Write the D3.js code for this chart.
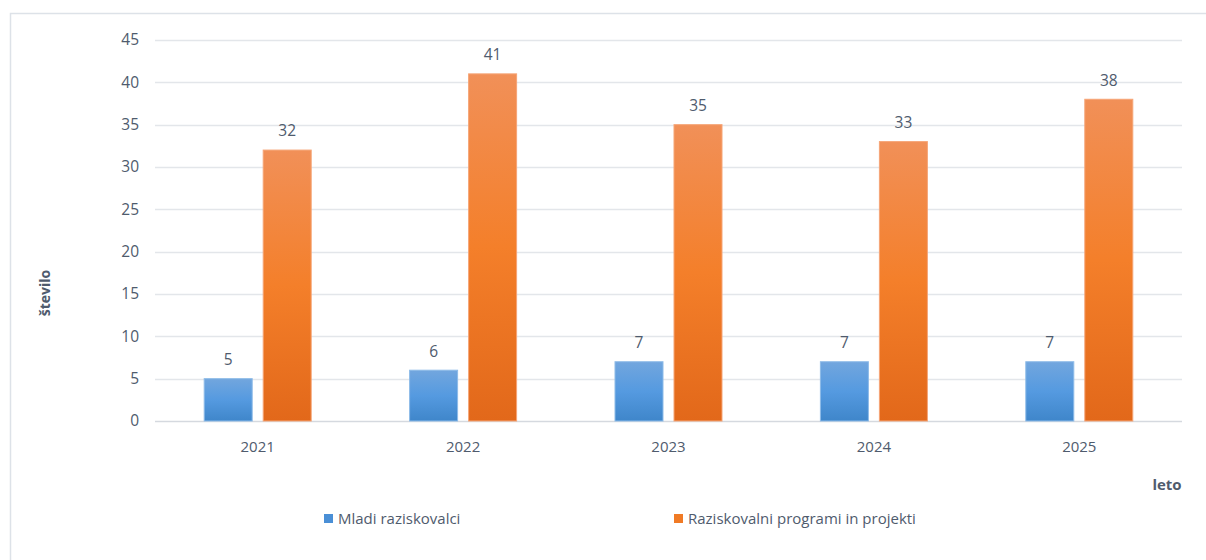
<!DOCTYPE html>
<html><head><meta charset="utf-8">
<script src="https://cdn.jsdelivr.net/npm/d3@7"></script>
<style>html,body{margin:0;padding:0;background:#fff;}svg{display:block;font-family:"Open Sans","Noto Sans",sans-serif;}</style>
</head><body>
<svg id="c" width="1206" height="560"></svg>
<script>
const years = ["2021","2022","2023","2024","2025"];
const mladi = [5,6,7,7,7];
const programi = [32,41,35,33,38];
const seriesNames = ["Mladi raziskovalci","Raziskovalni programi in projekti"];
const yTicks = [0,5,10,15,20,25,30,35,40,45];

const svg = d3.select("#c");
const textCol = "#4f5b6d";
// outer border
svg.append("rect").attr("x",10.5).attr("y",13.5).attr("width",1220).attr("height",600)
  .attr("fill","none").attr("stroke","#dde2e8").attr("stroke-width",1.5);

const defs = svg.append("defs");
const gb = defs.append("linearGradient").attr("id","gBlue").attr("x1",0).attr("y1",0).attr("x2",0).attr("y2",1);
gb.append("stop").attr("offset","0%").attr("stop-color","#72a6de");
gb.append("stop").attr("offset","50%").attr("stop-color","#559ae0");
gb.append("stop").attr("offset","100%").attr("stop-color","#3f86ca");
const go = defs.append("linearGradient").attr("id","gOrange").attr("x1",0).attr("y1",0).attr("x2",0).attr("y2",1);
go.append("stop").attr("offset","0%").attr("stop-color","#f19058");
go.append("stop").attr("offset","50%").attr("stop-color","#f47f2a");
go.append("stop").attr("offset","100%").attr("stop-color","#e2681a");

const x0 = 155, x1 = 1182, yTop = 40, yBot = 421;
const x = d3.scaleBand().domain(years).range([x0,x1]);
const y = d3.scaleLinear().domain([0,45]).range([yBot,yTop]);

// gridlines
svg.append("g").selectAll("line").data(yTicks).join("line")
  .attr("x1",x0).attr("x2",x1).attr("y1",d=>Math.round(y(d))+0.5).attr("y2",d=>Math.round(y(d))+0.5)
  .attr("stroke",d=>d===0?"#d5d9df":"#e3e6ea").attr("stroke-width",1.3);

// y tick labels
svg.append("g").selectAll("text").data(yTicks).join("text")
  .attr("x",139).attr("y",d=>y(d)).attr("dy","0.35em").attr("text-anchor","end")
  .attr("font-size",15.5).attr("fill",textCol).text(d=>d);

// x labels
svg.append("g").selectAll("text").data(years).join("text")
  .attr("x",d=>x(d)+x.bandwidth()/2).attr("y",447).attr("dy","0.35em").attr("text-anchor","middle")
  .attr("font-size",15).attr("fill",textCol).text(d=>d);

const bw = 48, gap = 11;
const series = [
  {vals:mladi, fill:"url(#gBlue)", stroke:"#8dbbe8", off:-gap/2-bw},
  {vals:programi, fill:"url(#gOrange)", stroke:"#f6a577", off:gap/2}
];
series.forEach(s=>{
  const g = svg.append("g");
  g.selectAll("rect").data(years).join("rect")
    .attr("x",(d)=>x(d)+x.bandwidth()/2+s.off)
    .attr("y",(d,i)=>y(s.vals[i]))
    .attr("width",bw)
    .attr("height",(d,i)=>yBot-y(s.vals[i]))
    .attr("fill",s.fill).attr("stroke",s.stroke).attr("stroke-width",1);
  g.selectAll("text").data(years).join("text")
    .attr("x",(d)=>x(d)+x.bandwidth()/2+s.off+bw/2)
    .attr("y",(d,i)=>y(s.vals[i])-19).attr("dy","0.35em").attr("text-anchor","middle")
    .attr("font-size",15.5).attr("fill",textCol).text((d,i)=>s.vals[i]);
});

// axis titles
svg.append("text").attr("transform","translate(45,293) rotate(-90)").attr("text-anchor","middle")
  .attr("dy","0.35em").attr("font-size",14).attr("font-weight","bold").attr("fill",textCol).text("število");
svg.append("text").attr("x",1167).attr("y",485).attr("dy","0.35em").attr("text-anchor","middle")
  .attr("font-size",15).attr("font-weight","bold").attr("fill",textCol).text("leto");

// legend
const legX = [324, 674], legCols = ["#4a8fd6","#f07a25"];
seriesNames.forEach((n,i)=>{
  svg.append("rect").attr("x",legX[i]).attr("y",514).attr("width",9).attr("height",9).attr("fill",legCols[i]);
  svg.append("text").attr("x",legX[i]+14).attr("y",519).attr("dy","0.35em").attr("font-size",15)
    .attr("fill",textCol).text(n);
});
</script>
</body></html>
